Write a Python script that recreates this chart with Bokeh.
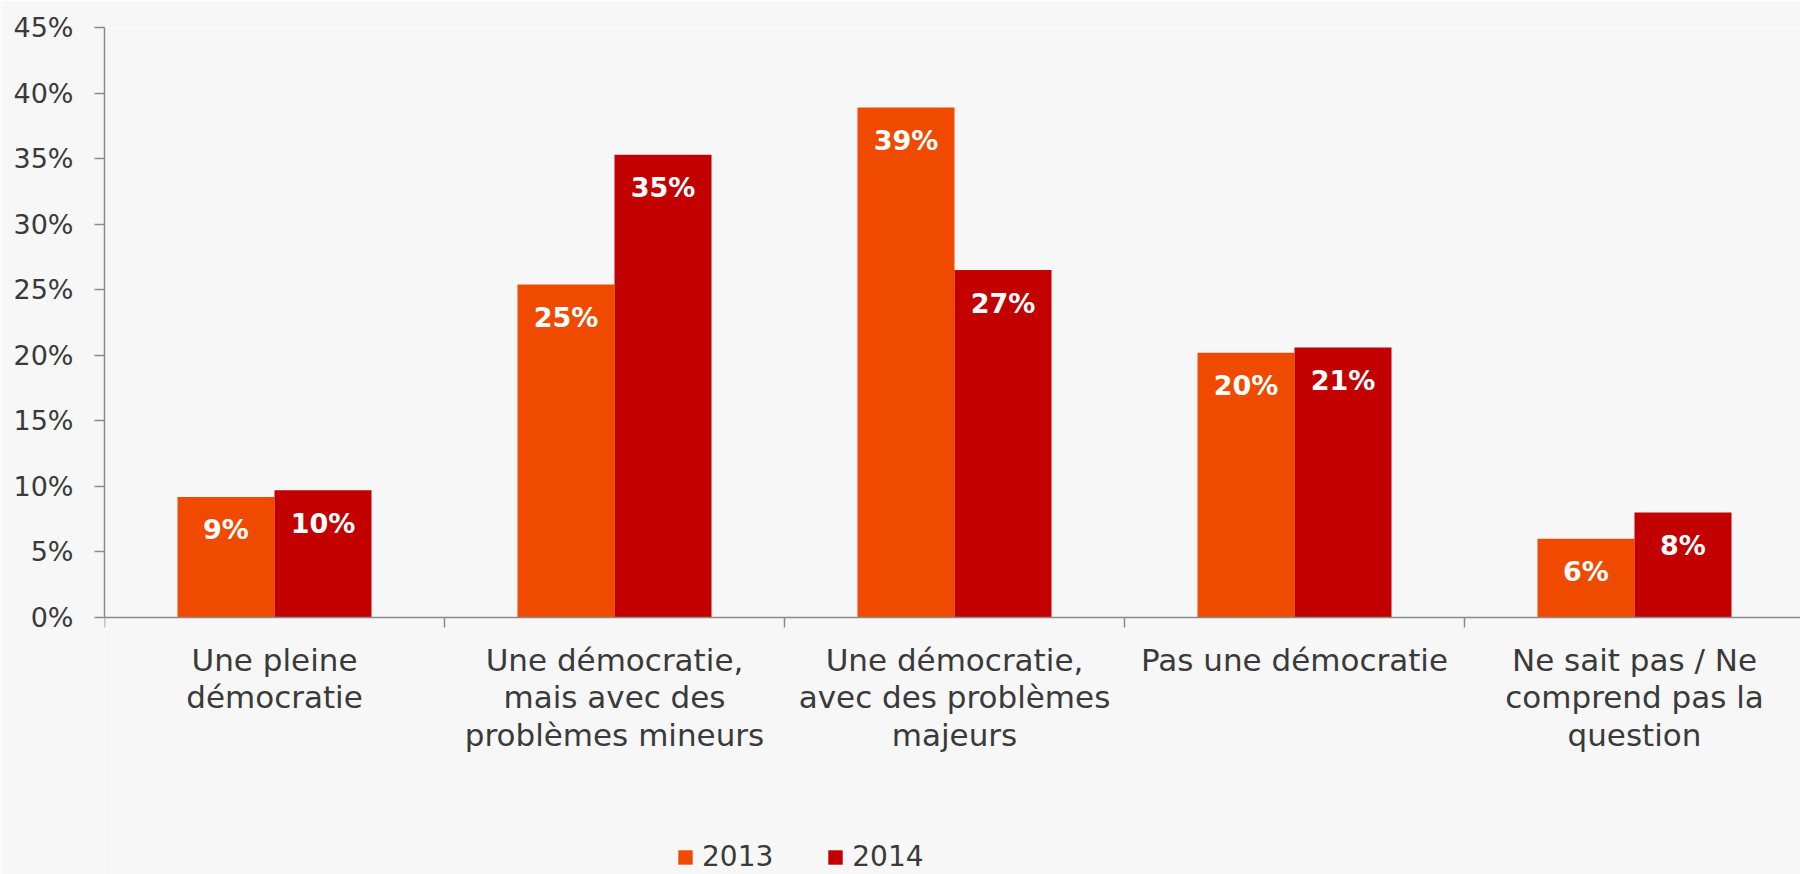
from bokeh.plotting import figure
from bokeh.models import (FixedTicker, PrintfTickFormatter, Legend, LegendItem, ColumnDataSource,
                          Range1d, LinearAxis)
from bokeh.embed import file_html
from bokeh.resources import INLINE
from bokeh.core.properties import value

categories = [
    "Une pleine\ndémocratie",
    "Une démocratie,\nmais avec des\nproblèmes mineurs",
    "Une démocratie,\navec des problèmes\nmajeurs",
    "Pas une démocratie",
    "Ne sait pas / Ne\ncomprend pas la\nquestion",
]
years = ["2013", "2014"]
values_2013 = [9.2, 25.4, 38.9, 20.2, 6.0]
values_2014 = [9.7, 35.3, 26.5, 20.6, 8.0]
labels_2013 = ["9%", "25%", "39%", "20%", "6%"]
labels_2014 = ["10%", "35%", "27%", "21%", "8%"]
y_ticks = [0, 5, 10, 15, 20, 25, 30, 35, 40, 45]

COL_2013 = "#EF4A00"
COL_2014 = "#C20000"
BG = "#F7F7F7"
AXIS = "#8A8A8A"
TXT = "#3A3A3A"
FONT = "DejaVu Sans"

W, H = 1800, 874
LEFT, TOP = 104, 27
ZERO_PX = 617            # pixel row of the 0% line
Y_MAX = 45.0
px_per_unit = (ZERO_PX - TOP) / Y_MAX
y_start = Y_MAX - (H - TOP) / px_per_unit   # frame extends below 0 to host labels and legend
CAT_PX = 340.0
x_end = (W - LEFT) / CAT_PX
bw = 97.0 / CAT_PX

n = len(categories)
centers = [i + 0.5 for i in range(n)]

src13 = ColumnDataSource(dict(x=[c - bw / 2 for c in centers], top=values_2013, lab=labels_2013))
src14 = ColumnDataSource(dict(x=[c + bw / 2 for c in centers], top=values_2014, lab=labels_2014))

p = figure(width=W, height=H, output_backend="svg", toolbar_location=None,
           x_range=Range1d(0, x_end), y_range=Range1d(y_start, Y_MAX),
           x_axis_location=None,
           min_border_left=LEFT, min_border_top=TOP, min_border_bottom=0, min_border_right=0,
           background_fill_color=BG, border_fill_color=BG, outline_line_color=None)
p.xgrid.visible = False
p.ygrid.visible = False

r13 = p.vbar(x="x", top="top", width=bw, bottom=0, source=src13, fill_color=COL_2013, line_color=None)
r14 = p.vbar(x="x", top="top", width=bw, bottom=0, source=src14, fill_color=COL_2014, line_color=None)

for s in (src13, src14):
    p.text(x="x", y="top", text="lab", source=s, text_color="white",
           text_font=value(FONT), text_font_style="bold", text_font_size="27px",
           text_align="center", text_baseline="middle", y_offset=33)

# y axis (line limited to 0..45)
ya = p.yaxis[0]
ya.bounds = (0, Y_MAX)
ya.ticker = FixedTicker(ticks=y_ticks)
ya.formatter = PrintfTickFormatter(format="%d%%")
ya.axis_line_color = AXIS
ya.axis_line_width = 1.5
ya.major_tick_line_color = AXIS
ya.major_tick_line_width = 1.5
ya.major_tick_out = 10
ya.major_tick_in = 0
ya.minor_tick_line_color = None
ya.major_label_text_font = FONT
ya.major_label_text_font_size = "27px"
ya.major_label_text_color = TXT
ya.major_label_standoff = 21

# x axis drawn at y = 0: boundary ticks (minor) and centred category labels (major)
xa = LinearAxis(fixed_location=0)
xa.ticker = FixedTicker(ticks=centers, minor_ticks=list(range(n + 1)))
xa.major_label_overrides = {c: lab for c, lab in zip(centers, categories)}
xa.axis_line_color = AXIS
xa.axis_line_width = 1.5
xa.major_tick_line_color = None
xa.major_tick_out = 10
xa.major_tick_in = 0
xa.minor_tick_line_color = AXIS
xa.minor_tick_line_width = 1.5
xa.minor_tick_out = 10
xa.minor_tick_in = 0
xa.major_label_text_font = FONT
xa.major_label_text_font_size = "31px"
xa.major_label_text_color = TXT
xa.major_label_text_line_height = 1.05
xa.major_label_standoff = 14
p.add_layout(xa, "below")

legend = Legend(items=[LegendItem(label=years[0], renderers=[r13]),
                       LegendItem(label=years[1], renderers=[r14])],
                orientation="horizontal", location=(676 - LEFT, 1),
                glyph_width=18, glyph_height=18, label_standoff=8, spacing=53,
                padding=0, margin=0, border_line_color=None, background_fill_alpha=0,
                label_text_font=FONT, label_text_font_size="28px", label_text_color=TXT)
p.add_layout(legend, "center")

open("out.html", "w").write(file_html(p, INLINE))
